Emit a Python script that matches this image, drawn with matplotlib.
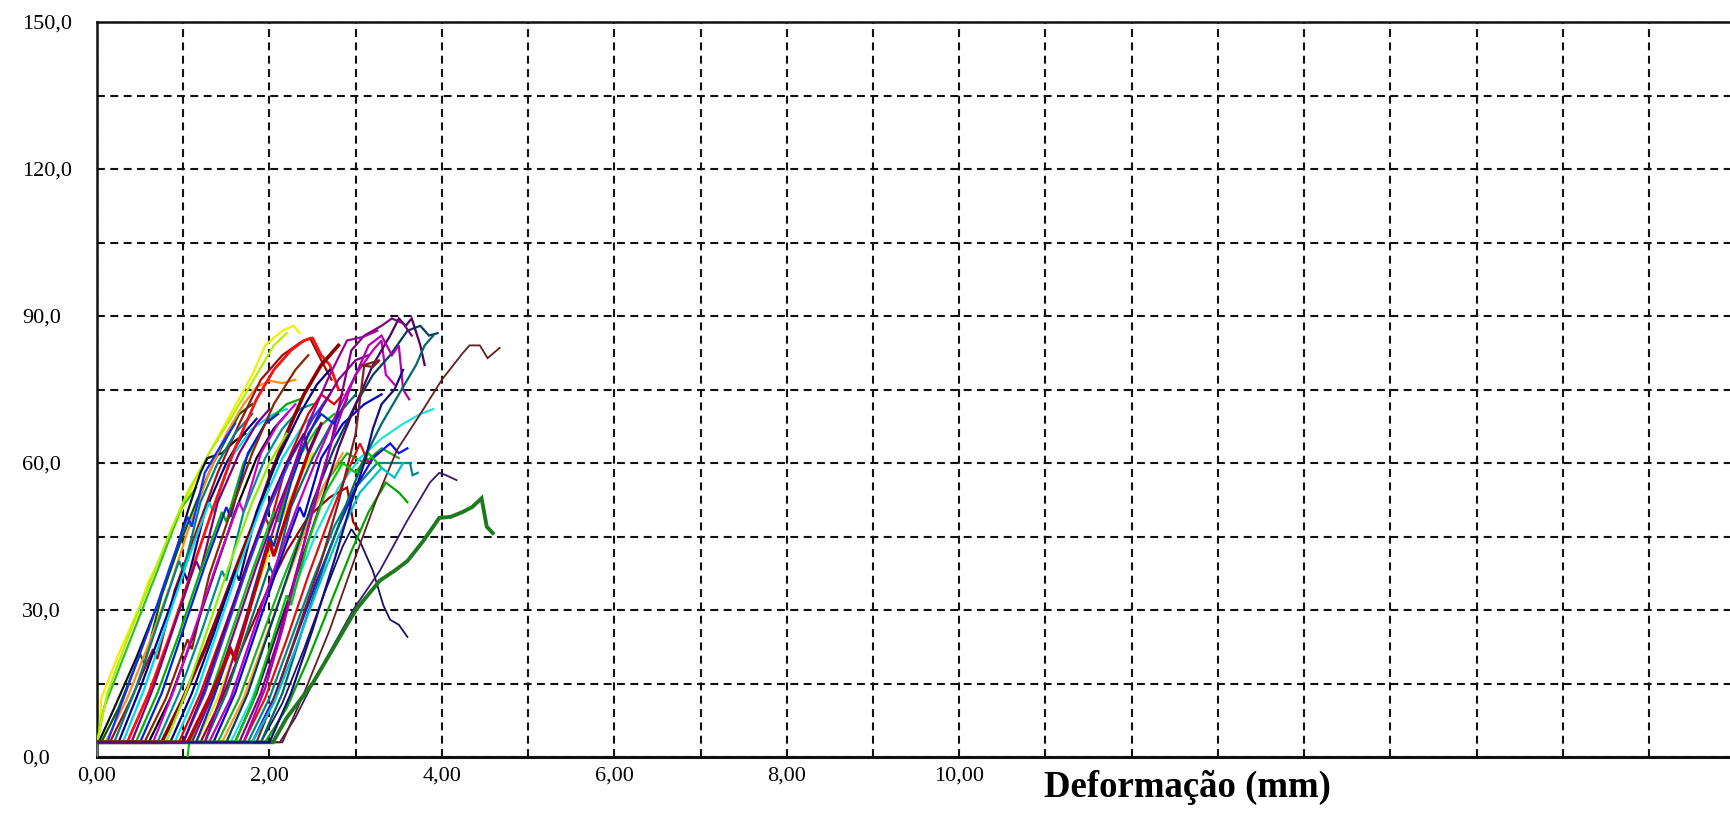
import matplotlib
matplotlib.use("Agg")
import matplotlib.pyplot as plt

plt.rcParams["font.family"] = ["Liberation Serif", "DejaVu Serif"]

# load (kN) vs deformation (mm) for each specimen, as (x, y) points
cp01 = [(0, 3), (0.02, 3), (0.05, 12), (0.25, 21), (0.5, 31), (0.6, 36), (0.72, 40), (0.9, 47),
        (1.1, 55), (1.3, 62), (1.55, 70), (1.8, 78), (1.95, 84), (2.15, 87), (2.28, 88), (2.35, 86.5)]
cp02 = [(0, 0), (0, 3), (0.08, 10), (0.3, 20), (0.5, 29), (0.7, 38), (0.85, 45), (0.98, 51),
        (1.05, 52.5), (1.15, 55)]
cp03 = [(0, 3), (0.12, 13), (0.35, 24), (0.6, 35), (0.85, 46), (1.05, 54), (1.3, 62), (1.55, 69),
        (1.85, 78), (2.05, 84), (2.2, 86.5)]
cp04 = [(0, 3), (0.02, 3), (0.2, 10), (0.45, 20), (0.7, 31), (0.9, 41), (1.05, 50), (1.2, 58),
        (1.28, 61), (1.45, 62), (1.6, 64.5), (1.72, 66)]
cp05 = [(0, 3), (0.05, 3), (0.25, 10), (0.5, 21), (0.55, 19), (0.75, 33), (0.95, 43), (1.15, 52),
        (1.35, 60), (1.5, 65), (1.65, 70), (1.8, 72)]
cp06 = [(0, 3), (0.1, 3), (0.35, 12), (0.6, 23), (0.85, 35), (1.05, 46), (1.3, 58), (1.5, 66),
        (1.7, 72), (1.85, 75.5), (2.0, 76.8), (2.15, 76.3), (2.3, 77)]
cp07 = [(0, 3), (0.12, 3), (0.35, 14), (0.6, 26), (0.85, 39), (1.05, 49), (1.1, 47), (1.25, 58),
        (1.45, 64), (1.6, 68)]
cp08 = [(0, 3), (0.15, 3), (0.4, 12), (0.65, 22), (0.7, 20), (0.9, 34), (1.15, 46), (1.4, 58),
        (1.65, 68), (1.9, 77), (2.15, 82), (2.35, 84.5), (2.47, 85.5), (2.6, 81), (2.72, 77)]
cp09 = [(0, 3), (0.2, 3), (0.45, 14), (0.7, 27), (0.95, 40), (1.0, 38), (1.2, 52), (1.4, 60),
        (1.6, 66), (1.8, 70)]
cp10 = [(0, 3), (0.25, 3), (0.5, 14), (0.75, 26), (1.0, 38), (1.05, 36), (1.25, 50), (1.5, 60),
        (1.7, 66), (1.85, 69)]
cp11 = [(0, 3), (0.3, 3), (0.55, 14), (0.8, 27), (1.05, 40), (1.3, 52), (1.35, 50), (1.55, 61),
        (1.8, 67), (2.05, 70), (2.2, 71)]
cp12 = [(0, 3), (0.35, 3), (0.6, 13), (0.85, 25), (1.1, 38), (1.35, 51), (1.6, 63), (1.85, 73),
        (2.05, 79), (2.25, 83), (2.4, 85), (2.5, 85.5), (2.6, 82), (2.7, 80), (2.8, 75)]
cp13 = [(0, 3), (0.4, 3), (0.65, 14), (0.9, 27), (1.15, 40), (1.2, 38), (1.4, 52), (1.65, 62),
        (1.85, 68), (2.0, 71)]
cp14 = [(0, 3), (0.45, 3), (0.7, 13), (0.95, 25), (1.2, 38), (1.45, 50), (1.5, 48), (1.7, 60),
        (1.95, 68), (2.2, 72), (2.35, 73)]
cp15 = [(0, 3), (0.5, 3), (0.75, 13), (1.0, 26), (1.25, 39), (1.5, 51), (1.55, 49), (1.75, 62),
        (1.95, 68), (2.1, 70)]
cp16 = [(0, 3), (0.55, 3), (0.8, 12), (1.05, 24), (1.1, 22), (1.3, 37), (1.55, 50), (1.8, 62),
        (2.05, 72), (2.3, 79), (2.45, 82)]
cp17 = [(0, 3), (0.6, 3), (0.85, 12), (1.1, 24), (1.35, 37), (1.6, 50), (1.85, 61), (2.05, 67),
        (2.2, 70)]
cp18 = [(0, 3), (0.65, 3), (0.9, 14), (1.15, 27), (1.4, 40), (1.65, 52), (1.7, 50), (1.9, 62),
        (2.1, 68), (2.3, 72)]
cp19 = [(0, 3), (0.7, 3), (0.95, 13), (1.2, 25), (1.45, 38), (1.5, 36), (1.7, 50), (1.95, 61),
        (2.15, 67), (2.35, 71), (2.5, 72)]
cp20 = [(0, 3), (0.75, 3), (1.0, 12), (1.25, 22), (1.45, 31), (1.6, 38), (1.8, 47), (2.0, 57),
        (2.2, 66), (2.4, 74), (2.6, 80), (2.8, 84)]
cp21 = [(0, 3), (0.8, 3), (1.05, 14), (1.3, 27), (1.55, 40), (1.8, 52), (2.0, 60), (2.2, 66)]
cp22 = [(0, 3), (0.85, 3), (1.1, 13), (1.35, 25), (1.6, 38), (1.65, 36), (1.85, 50), (2.1, 61),
        (2.35, 70), (2.55, 76), (2.7, 79)]
cp23 = [(0, 3), (0.9, 3), (1.15, 13), (1.4, 26), (1.65, 39), (1.9, 51), (2.15, 61), (2.4, 68),
        (2.6, 71)]
cp24 = [(0, 3), (0.95, 3), (1.2, 13), (1.45, 25), (1.7, 37), (1.95, 49), (2.0, 47), (2.2, 60),
        (2.45, 70), (2.6, 74), (2.75, 72), (2.85, 74)]
cp25 = [(0, 3), (1.0, 3), (1.25, 13), (1.5, 26), (1.75, 39), (2.0, 51), (2.25, 61), (2.5, 69),
        (2.7, 74)]
cp26 = [(1.05, 0), (1.07, 3), (1.3, 12), (1.55, 25), (1.8, 38), (2.05, 50), (2.1, 48), (2.3, 60),
        (2.55, 67), (2.75, 70)]
cp27 = [(0, 3), (1.1, 3), (1.35, 13), (1.6, 26), (1.85, 39), (2.1, 51), (2.35, 62), (2.6, 71),
        (2.8, 77), (3.0, 81), (3.15, 82)]
cp28 = [(0, 3), (1.15, 3), (1.4, 12), (1.65, 24), (1.9, 37), (2.15, 49), (2.35, 57), (2.5, 62)]
cp29 = [(0, 3), (1.2, 3), (1.45, 12), (1.7, 23), (1.95, 33), (2.2, 42), (2.45, 49), (2.7, 53),
        (2.9, 55), (2.97, 48), (3.05, 46)]
cp30 = [(0, 3), (1.25, 3), (1.5, 13), (1.75, 26), (2.0, 39), (2.05, 37), (2.25, 51), (2.5, 61),
        (2.75, 69), (3.0, 74)]
cp31 = [(0, 3), (1.3, 3), (1.55, 12), (1.8, 25), (2.05, 38), (2.3, 50), (2.55, 61), (2.8, 71),
        (3.0, 78), (3.2, 83), (3.3, 85), (3.35, 78), (3.45, 76)]
cp32 = [(0, 3), (1.35, 3), (1.6, 13), (1.85, 26), (2.1, 39), (2.35, 51), (2.4, 49), (2.6, 61),
        (2.85, 68), (3.1, 72), (3.3, 74)]
cp33 = [(0, 3), (1.4, 3), (1.65, 12), (1.9, 24), (2.15, 36), (2.4, 47), (2.65, 56), (2.9, 62),
        (3.1, 60), (3.3, 63), (3.5, 61)]
cp34 = [(0, 3), (1.45, 3), (1.7, 12), (1.95, 24), (2.2, 36), (2.45, 48), (2.65, 56), (2.85, 62)]
cp35 = [(0, 3), (1.5, 3), (1.75, 13), (2.0, 26), (2.25, 39), (2.5, 52), (2.75, 63), (3.0, 72),
        (3.2, 78), (3.4, 82), (3.6, 87), (3.75, 88), (3.85, 86), (3.95, 86.5)]
cp36 = [(0, 3), (1.55, 3), (1.8, 12), (2.05, 24), (2.3, 35), (2.55, 46), (2.8, 55), (3.05, 61),
        (3.3, 65), (3.55, 68), (3.75, 70), (3.9, 71)]
cp37 = [(0, 3), (1.6, 3), (1.85, 13), (2.1, 26), (2.35, 39), (2.6, 52), (2.8, 63), (3.0, 72),
        (3.2, 80), (3.4, 86), (3.5, 89.5), (3.58, 88), (3.65, 89.5), (3.75, 84), (3.8, 80)]
cp38 = [(0, 3), (1.65, 3), (1.9, 13), (2.1, 24), (2.3, 37), (2.5, 50), (2.7, 63), (2.85, 75),
        (2.95, 83), (3.1, 86), (3.3, 88), (3.42, 89.5), (3.55, 88.5), (3.65, 86)]
cp39 = [(0, 3), (1.7, 3), (1.95, 12), (2.2, 24), (2.45, 37), (2.7, 49), (2.9, 58), (3.05, 64),
        (3.15, 60), (3.25, 62)]
cp40 = [(0, 3), (1.75, 3), (2.0, 12), (2.25, 24), (2.5, 36), (2.75, 47), (3.0, 55), (3.25, 60),
        (3.4, 60), (3.63, 60), (3.66, 57.5), (3.72, 58)]
cp41 = [(0, 3), (1.8, 3), (2.05, 12), (2.3, 24), (2.55, 36), (2.8, 47), (3.0, 55), (3.2, 61),
        (3.4, 64), (3.5, 62), (3.6, 63)]
cp42 = [(0, 3), (1.9, 3), (2.15, 11), (2.4, 22), (2.65, 34), (2.85, 43), (2.95, 46.5), (3.05, 44),
        (3.2, 38), (3.32, 31), (3.4, 28), (3.5, 27), (3.6, 24.5)]
cp43 = [(0, 3), (1.95, 3), (2.2, 10), (2.45, 20), (2.7, 31), (2.95, 42), (3.15, 50), (3.35, 56),
        (3.5, 54), (3.6, 52)]
cp44 = [(0, 3), (2.12, 3), (2.3, 8), (2.5, 15), (2.75, 23), (2.97, 30), (3.28, 38), (3.59, 48),
        (3.86, 56), (3.97, 58), (4.05, 57.5), (4.17, 56.5)]
cp45 = [(0, 3), (2.15, 3), (2.4, 13), (2.7, 26), (3.0, 41), (3.25, 53), (3.48, 62.7), (3.75, 70),
        (4.0, 77), (4.24, 82.4), (4.32, 84), (4.44, 84), (4.53, 81.4), (4.67, 83.5)]
cp46 = [(0, 3), (2.04, 3), (2.2, 8), (2.5, 15), (2.8, 24), (3.0, 30), (3.28, 36), (3.45, 38),
        (3.6, 40), (3.78, 44), (3.97, 48.8), (4.1, 49), (4.24, 50), (4.35, 51), (4.46, 52.8),
        (4.52, 47), (4.59, 45.7)]
cp47 = [(0, 3), (1.85, 3), (2.1, 14), (2.35, 27), (2.6, 40), (2.8, 52), (3.0, 66), (3.1, 80),
        (3.28, 81), (3.2, 79.6), (3.05, 80)]
cp48 = [(0, 3), (1.25, 3), (1.45, 13), (1.7, 27), (1.95, 41), (2.2, 55), (2.45, 68), (2.7, 78),
        (2.9, 85), (3.08, 85.7), (3.25, 87)]
cp49 = [(0, 3), (1.15, 3), (1.35, 12), (1.55, 22), (1.6, 20), (1.8, 33), (2.0, 45), (2.05, 43),
        (2.25, 56), (2.45, 66), (2.6, 70), (2.75, 68), (2.9, 73)]
cp50 = [(0, 3), (1.6, 3), (1.8, 11), (2.0, 22), (2.2, 33), (2.25, 31), (2.45, 44), (2.65, 54),
        (2.85, 60), (3.0, 58), (3.15, 62), (3.3, 59)]
cp51 = [(0, 3), (1.7, 3), (1.95, 14), (2.15, 26), (2.35, 40), (2.55, 54), (2.75, 66), (2.95, 76),
        (3.15, 84), (3.3, 86), (3.42, 82), (3.5, 84), (3.55, 75), (3.62, 73)]
cp52 = [(0, 3), (1.9, 3), (2.15, 13), (2.4, 27), (2.65, 40), (2.9, 52), (3.1, 61), (3.3, 68),
        (3.5, 74), (3.7, 80), (3.8, 84), (3.9, 86)]
cp53 = [(0, 3), (1.05, 3), (1.3, 12), (1.55, 22), (1.6, 20), (1.8, 32), (2.0, 44), (2.05, 41),
        (2.25, 52), (2.45, 62), (2.6, 68)]
cp54 = [(0, 3), (1.8, 3), (2.05, 11), (2.3, 22), (2.55, 34), (2.8, 45), (3.05, 54), (3.3, 59),
        (3.45, 57), (3.55, 60)]
cp55 = [(0, 3), (2.0, 3), (2.25, 13), (2.5, 26), (2.75, 40), (2.95, 52), (3.1, 60), (3.2, 67),
        (3.3, 72), (3.45, 75), (3.55, 79)]
cp56 = [(0, 3), (1.0, 3), (1.25, 14), (1.5, 27), (1.75, 40), (2.0, 52), (2.2, 60), (2.4, 66),
        (2.45, 62), (2.6, 68)]

specimens = [cp01, cp02, cp03, cp04, cp05, cp06, cp07, cp08, cp09, cp10, cp11, cp12,
             cp13, cp14, cp15, cp16, cp17, cp18, cp19, cp20, cp21, cp22, cp23, cp24,
             cp25, cp26, cp27, cp28, cp29, cp30, cp31, cp32, cp33, cp34, cp35, cp36,
             cp37, cp38, cp39, cp40, cp41, cp42, cp43, cp44, cp45, cp46, cp47, cp48,
             cp49, cp50, cp51, cp52, cp53, cp54, cp55, cp56]

line_colors = ["#f0f000", "#30c030", "#b0f000", "#101010", "#006000", "#ff8c1a",
               "#1030ff", "#a01010", "#008080", "#000090", "#00d8e8", "#ff1010",
               "#7a007a", "#00b000", "#0020e0", "#8b2500", "#000000", "#d000d0",
               "#009090", "#900000", "#90ee00", "#000080", "#00e0f0", "#e00000",
               "#2040ff", "#10c010", "#800090", "#e8e800", "#a00000", "#007070",
               "#c000c0", "#0000d0", "#20b020", "#ff9a20", "#004060", "#20e0e0",
               "#500060", "#800080", "#e01010", "#008888", "#1010ff", "#1a1060",
               "#00a800", "#3a1a70", "#602020", "#1e7a1e", "#802020", "#9a009a",
               "#0030c0", "#00c800", "#b000b0", "#006868", "#c00000", "#00c0d0",
               "#101080", "#600080"]

line_widths = [1.6] * len(specimens)
line_widths[19] = 2.6   # cp20
line_widths[11] = 2.0   # cp12
line_widths[45] = 2.8   # cp46
line_widths[52] = 2.4   # cp53
line_widths[44] = 1.3   # cp45
line_widths[43] = 1.3   # cp44
line_widths[41] = 1.3   # cp42

x_ticks = list(range(0, 19))
x_labels = ["0,00", "", "2,00", "", "4,00", "", "6,00", "", "8,00", "", "10,00"] + [""] * 8
y_ticks = list(range(0, 151, 15))
y_labels = ["0,0", "", "30,0", "", "60,0", "", "90,0", "", "120,0", "", "150,0"]

fig = plt.figure(figsize=(17.31, 8.14), dpi=100)
ax = fig.add_axes([97 / 1731, 57 / 814, 1 - 97 / 1731, 735 / 814])

for pts, c, lw in zip(specimens, line_colors, line_widths):
    xs = [p[0] for p in pts]
    ys = [p[1] for p in pts]
    ax.plot(xs, ys, color=c, linewidth=lw, solid_joinstyle="miter", zorder=3)

ax.set_xlim(0, 18.95)
ax.set_ylim(0, 150)
ax.set_xticks(x_ticks)
ax.set_xticklabels(x_labels, fontsize=16)
ax.set_yticks(y_ticks)
ax.set_yticklabels(y_labels, fontsize=16, ha="left")
ax.tick_params(axis="both", length=0)
ax.tick_params(axis="x", pad=7)
ax.tick_params(axis="y", pad=54)

ax.grid(True, color="#111111", linewidth=1.5, linestyle=(0, (3.8, 2.6)), zorder=1)

ax.spines["right"].set_visible(False)
ax.spines["top"].set_linewidth(1.8)
ax.spines["left"].set_linewidth(1.8)
ax.spines["bottom"].set_linewidth(2.2)
for s in ax.spines.values():
    s.set_color("#111111")

fig.text(1187 / 1731, 1 - 787 / 814, "Deformação (mm)", fontsize=26.5, fontweight="bold",
         ha="center", va="center")

fig.savefig("out.png", dpi=100)
